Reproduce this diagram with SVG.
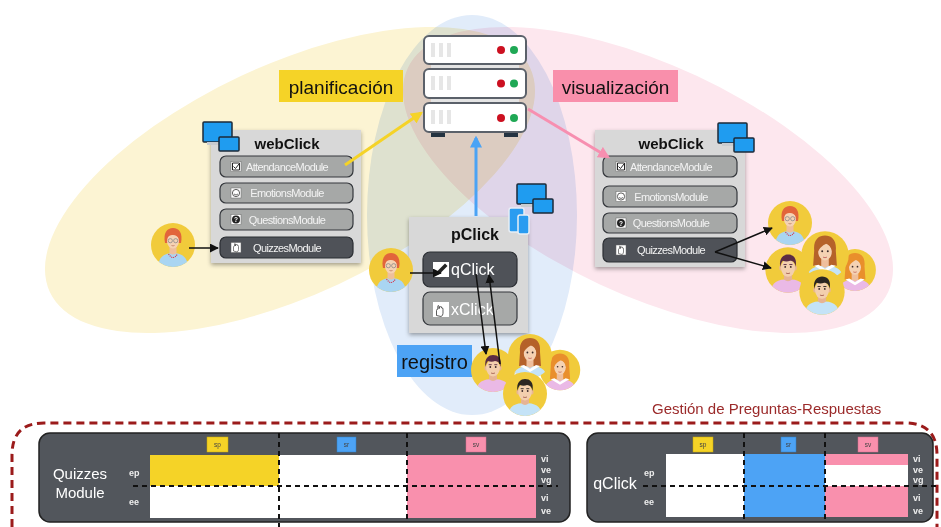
<svg xmlns="http://www.w3.org/2000/svg" width="941" height="527" viewBox="0 0 941 527">
<style>
  text{font-family:"Liberation Sans",Arial,sans-serif}
  .panel{fill:#d8d8d8}
  .btn{fill:#a6a8a7;stroke:#34373c;stroke-width:1.2}
  .btnd{fill:#4f5258;stroke:#2b2e33;stroke-width:1.2}
  .bt{font-size:11px;fill:#f3f3f3;letter-spacing:-0.6px;text-anchor:middle}
  .title{font-size:15px;font-weight:bold;fill:#111;text-anchor:middle}
  .lbl{font-size:19px;fill:#111}
  .blk{stroke:#111;stroke-width:1.5;fill:none}
  .srv{fill:#fff;stroke:#5b616a;stroke-width:2}
  .bar{fill:#e4e4e4}
  .tbl{fill:#52565c;stroke:#222;stroke-width:1.5}
  .dsh{stroke:#111;stroke-width:2;stroke-dasharray:5 4;fill:none}
  .hd{font-size:6.5px;fill:#444;text-anchor:middle}
  .rl{font-size:9px;font-weight:bold;fill:#eee}
  .ico{fill:#fff;stroke:#666;stroke-width:.5}
  .mon{fill:#1f9cf0;stroke:#1d2a38;stroke-width:1.5}
  .skin{fill:#f5d2b3}
  .eye{fill:#3a2a2a}
</style>
<defs>
  <filter id="sh" x="-10%" y="-10%" width="120%" height="125%">
    <feDropShadow dx="0" dy="2" stdDeviation="2" flood-color="#000" flood-opacity=".35"/>
  </filter>
  <marker id="ahY" viewBox="0 0 10 10" refX="8" refY="5" markerWidth="4" markerHeight="4" orient="auto"><path d="M0,0 L10,5 L0,10z" fill="#f5d327"/></marker>
  <marker id="ahP" viewBox="0 0 10 10" refX="8" refY="5" markerWidth="4" markerHeight="4" orient="auto"><path d="M0,0 L10,5 L0,10z" fill="#f78fb0"/></marker>
  <marker id="ahB" viewBox="0 0 10 10" refX="8" refY="5" markerWidth="4" markerHeight="4" orient="auto"><path d="M0,0 L10,5 L0,10z" fill="#4aa3f5"/></marker>
  <marker id="ahK" viewBox="0 0 10 10" refX="9" refY="5" markerWidth="6" markerHeight="6" orient="auto"><path d="M0,0 L10,5 L0,10z" fill="#111"/></marker>
  <clipPath id="cc"><circle r="22"/></clipPath>

  <!-- avatar: woman with glasses -->
  <g id="avA">
    <circle r="22" fill="#f1cb3b"/>
    <g clip-path="url(#cc)">
      <path d="M-15,24 C-15,12 -9,8 0,8 C9,8 15,12 15,24Z" fill="#a9d5f2"/>
      <path d="M-3.5,2 h7 v6 q-3.5,3 -7,0z" fill="#eebf9c"/>
      <path d="M-4.5,9 Q0,16 4.5,9" fill="none" stroke="#d8344a" stroke-width="1.1" stroke-dasharray="1.1 .9"/>
    </g>
    <path d="M-8,-2 C-10,-12 -6,-17 0,-17 C6,-17 10,-12 8,-2Z" fill="#e2653b"/>
    <ellipse cx="0" cy="-4" rx="6" ry="7.5" class="skin"/>
    <path d="M-7,-5 C-7,-13 -2,-14 1,-13.5 C6,-13 7.5,-10 7,-5 C5,-9 2,-10.5 -1,-10 C-4,-9.5 -6,-8 -7,-5Z" fill="#e2653b"/>
    <g fill="none" stroke="#8a8a8a" stroke-width=".8"><circle cx="-2.7" cy="-4.3" r="2.1"/><circle cx="2.7" cy="-4.3" r="2.1"/></g>
    <path d="M-1.5,0.5 Q0,1.3 1.5,0.5" stroke="#b5705a" stroke-width=".7" fill="none"/>
  </g>

  <!-- avatar: man, dark red hair -->
  <g id="avM">
    <circle r="22" fill="#f1cb3b"/>
    <g clip-path="url(#cc)">
      <path d="M-17,24 C-17,12 -10,9 0,9 C10,9 17,12 17,24Z" fill="#eab9e6"/>
      <path d="M-4,3 h8 v6 q-4,4 -8,0z" fill="#e6b494"/>
    </g>
    <ellipse cx="-7" cy="-2" rx="1.6" ry="2.5" fill="#eab791"/>
    <ellipse cx="7" cy="-2" rx="1.6" ry="2.5" fill="#eab791"/>
    <ellipse cx="0" cy="-2" rx="6.8" ry="8.5" fill="#f3cfae"/>
    <path d="M-7.5,-3 C-9,-12 -4,-15 0,-15 C5,-15 9,-12 7.5,-3 C7,-7 5,-9 2,-9 C0,-8 -3,-8 -5,-9 C-6,-8 -7,-6 -7.5,-3Z" fill="#5b2c44"/>
    <circle cx="-2.7" cy="-3" r=".9" class="eye"/><circle cx="2.7" cy="-3" r=".9" class="eye"/>
    <path d="M-4.3,-5.3 h3 M1.3,-5.3 h3" stroke="#5b2c44" stroke-width=".9"/>
    <path d="M-2,3 Q0,4 2,3" stroke="#a0584a" stroke-width=".8" fill="none"/>
  </g>

  <!-- avatar: man, black hair -->
  <g id="avD">
    <circle r="22" fill="#f1cb3b"/>
    <g clip-path="url(#cc)">
      <path d="M-17,24 C-17,12 -10,9 0,9 C10,9 17,12 17,24Z" fill="#c4e3f7"/>
      <path d="M-4,3 h8 v6 q-4,4 -8,0z" fill="#e6b494"/>
    </g>
    <ellipse cx="-7" cy="-2" rx="1.6" ry="2.5" fill="#eab791"/>
    <ellipse cx="7" cy="-2" rx="1.6" ry="2.5" fill="#eab791"/>
    <ellipse cx="0" cy="-2" rx="6.8" ry="8.5" fill="#f3cfae"/>
    <path d="M-7.5,-3 C-9,-12 -4,-15 0,-15 C5,-15 9,-12 7.5,-3 C7,-7 5,-9 2,-9 C0,-8 -3,-8 -5,-9 C-6,-8 -7,-6 -7.5,-3Z" fill="#2b2622"/>
    <circle cx="-2.7" cy="-3" r=".9" class="eye"/><circle cx="2.7" cy="-3" r=".9" class="eye"/>
    <path d="M-4.3,-5.3 h3 M1.3,-5.3 h3" stroke="#2b2622" stroke-width=".9"/>
    <path d="M-2,3 Q0,4 2,3" stroke="#a0584a" stroke-width=".8" fill="none"/>
  </g>

  <!-- avatar: woman, long brown hair -->
  <g id="avW">
    <circle r="22" fill="#f1cb3b"/>
    <g clip-path="url(#cc)">
      <path d="M-10,-4 C-11,-14 -6,-18 0,-18 C6,-18 11,-14 10,-4 L11,10 L-11,10Z" fill="#b5622a"/>
      <path d="M-17,24 C-17,13 -10,10 0,10 C10,10 17,13 17,24Z" fill="#c4e3f7"/>
      <path d="M-3.5,3 h7 v7 l-3.5,2 l-3.5,-2z" fill="#efbf9c"/>
      <path d="M-10,10 L0,16 L10,10 L6,9 L0,13 L-6,9Z" fill="#fff"/>
    </g>
    <ellipse cx="0" cy="-3" rx="6.3" ry="8" class="skin"/>
    <path d="M-7,-2 C-8,-12 -3,-14 0,-14 C4,-14 8,-12 7,-2 C6,-7 4,-9.5 1,-10.5 C-2,-9 -5,-7 -7,-2Z" fill="#b5622a"/>
    <circle cx="-2.6" cy="-3.5" r=".9" class="eye"/><circle cx="2.6" cy="-3.5" r=".9" class="eye"/>
    <path d="M-1.8,2 Q0,3 1.8,2" stroke="#c0605a" stroke-width=".8" fill="none"/>
  </g>

  <!-- avatar: woman, blonde hair -->
  <g id="avB">
    <circle r="22" fill="#f1cb3b"/>
    <g clip-path="url(#cc)">
      <path d="M-10,-4 C-11,-14 -6,-18 0,-18 C6,-18 11,-14 10,-4 L11,10 L-11,10Z" fill="#e98f2c"/>
      <path d="M-17,24 C-17,13 -10,10 0,10 C10,10 17,13 17,24Z" fill="#eab9e6"/>
      <path d="M-3.5,3 h7 v7 l-3.5,2 l-3.5,-2z" fill="#efbf9c"/>
      <path d="M-10,10 L0,16 L10,10 L6,9 L0,13 L-6,9Z" fill="#fff"/>
    </g>
    <ellipse cx="0" cy="-3" rx="6.3" ry="8" class="skin"/>
    <path d="M-7,-2 C-8,-12 -3,-14 0,-14 C4,-14 8,-12 7,-2 C6,-7 4,-9.5 1,-10.5 C-2,-9 -5,-7 -7,-2Z" fill="#e98f2c"/>
    <circle cx="-2.6" cy="-3.5" r=".9" class="eye"/><circle cx="2.6" cy="-3.5" r=".9" class="eye"/>
    <path d="M-1.8,2 Q0,3 1.8,2" stroke="#c0605a" stroke-width=".8" fill="none"/>
  </g>

  <!-- two-screen monitor icon, origin at top-left of the larger screen -->
  <g id="monitors">
    <rect x="0" y="0" width="29" height="20" rx="1" class="mon"/>
    <rect x="4" y="20" width="14" height="3" fill="#c9ccd0"/>
    <rect x="16" y="15" width="20" height="14" rx="1" class="mon"/>
  </g>
</defs>

<!-- background sets -->
<g id="sets" style="isolation:isolate">
  <ellipse cx="290" cy="180" rx="265" ry="115" transform="rotate(-25 290 180)" fill="#fcf4d3" style="mix-blend-mode:multiply"/>
  <ellipse cx="648" cy="180" rx="265" ry="115" transform="rotate(25 648 180)" fill="#fde7ee" style="mix-blend-mode:multiply"/>
  <ellipse cx="472" cy="215" rx="105" ry="200" fill="#e1ecfa" style="mix-blend-mode:multiply"/>
</g>

<!-- server -->
<g id="server">
  <rect x="431" y="62" width="88" height="9" class="bar"/>
  <rect x="431" y="96" width="88" height="9" class="bar"/>
  <rect x="431" y="132" width="14" height="5" fill="#243341"/>
  <rect x="504" y="132" width="14" height="5" fill="#243341"/>
  <g>
    <rect x="424" y="36" width="102" height="28" rx="5" class="srv"/>
    <rect x="431" y="43" width="4" height="14" fill="#e6e6e6"/><rect x="439" y="43" width="4" height="14" fill="#e6e6e6"/><rect x="447" y="43" width="4" height="14" fill="#e6e6e6"/>
    <circle cx="501" cy="50" r="4" fill="#cc1020"/><circle cx="514" cy="50" r="4" fill="#1fa855"/>
  </g>
  <g>
    <rect x="424" y="69" width="102" height="29" rx="5" class="srv"/>
    <rect x="431" y="76" width="4" height="14" fill="#e6e6e6"/><rect x="439" y="76" width="4" height="14" fill="#e6e6e6"/><rect x="447" y="76" width="4" height="14" fill="#e6e6e6"/>
    <circle cx="501" cy="83.5" r="4" fill="#cc1020"/><circle cx="514" cy="83.5" r="4" fill="#1fa855"/>
  </g>
  <g>
    <rect x="424" y="103" width="102" height="29" rx="5" class="srv"/>
    <rect x="431" y="110" width="4" height="14" fill="#e6e6e6"/><rect x="439" y="110" width="4" height="14" fill="#e6e6e6"/><rect x="447" y="110" width="4" height="14" fill="#e6e6e6"/>
    <circle cx="501" cy="118" r="4" fill="#cc1020"/><circle cx="514" cy="118" r="4" fill="#1fa855"/>
  </g>
</g>

<!-- phase labels -->
<g id="label-planificacion">
  <rect x="279" y="70" width="124" height="32" fill="#f5d327"/>
  <text x="341" y="94" class="lbl" text-anchor="middle">planificación</text>
</g>
<g id="label-visualizacion">
  <rect x="553" y="70" width="125" height="32" fill="#f98fab"/>
  <text x="615.5" y="94" class="lbl" text-anchor="middle">visualización</text>
</g>
<g id="label-registro">
  <rect x="397" y="345" width="75" height="32" fill="#4da3f5"/>
  <text x="434.5" y="369" class="lbl" style="font-size:20px" text-anchor="middle">registro</text>
</g>

<!-- webClick (planning side) -->
<g id="webclick-left">
  <rect x="211" y="130" width="150" height="133" class="panel" filter="url(#sh)"/>
  <use href="#monitors" transform="translate(203 122)"/>
  <text x="287" y="149" class="title">webClick</text>
  <rect x="220" y="156" width="133" height="21" rx="6" class="btn"/>
  <rect x="231" y="161.5" width="10" height="10" class="ico"/>
  <path d="M232.5,163 h7 v7 h-7z M233.5,166.5 l2,2 l3.5,-4.5" fill="none" stroke="#222" stroke-width="1"/>
  <text x="287" y="170.5" class="bt">AttendanceModule</text>
  <rect x="220" y="183" width="133" height="20" rx="6" class="btn"/>
  <rect x="231" y="188" width="10" height="10" class="ico"/>
  <circle cx="236" cy="193" r="3.6" fill="none" stroke="#333" stroke-width=".8"/>
  <path d="M234,194 q2,2 4,0" fill="none" stroke="#333" stroke-width=".7"/>
  <text x="287" y="197" class="bt">EmotionsModule</text>
  <rect x="220" y="209" width="133" height="21" rx="6" class="btn"/>
  <rect x="231" y="214.5" width="10" height="10" class="ico"/>
  <circle cx="236" cy="219.5" r="4" fill="#222"/>
  <text x="236" y="222" font-size="6.5" font-weight="bold" fill="#fff" text-anchor="middle">?</text>
  <text x="287" y="223.5" class="bt">QuestionsModule</text>
  <rect x="220" y="237" width="133" height="21" rx="6" class="btnd"/>
  <rect x="231" y="242.5" width="10" height="10" class="ico"/>
  <path d="M233.5,251 v-4 q0,-1 1,-1 v-2 q0,-1 1,0 v2 q0,-2 1,-1.5 q1,-.5 1,1 q1,-.5 1,1 v3 q0,2 -1.5,2.5z" fill="none" stroke="#333" stroke-width=".6"/>
  <text x="287" y="251.5" class="bt">QuizzesModule</text>
</g>

<!-- webClick (visualisation side) -->
<g id="webclick-right">
  <rect x="595" y="130" width="150" height="137" class="panel" filter="url(#sh)"/>
  <use href="#monitors" transform="translate(718 123)"/>
  <text x="671" y="149" class="title">webClick</text>
  <rect x="603" y="156" width="134" height="21" rx="6" class="btn"/>
  <rect x="616" y="161.5" width="10" height="10" class="ico"/>
  <path d="M617.5,163 h7 v7 h-7z M618.5,166.5 l2,2 l3.5,-4.5" fill="none" stroke="#222" stroke-width="1"/>
  <text x="671" y="170.5" class="bt">AttendanceModule</text>
  <rect x="603" y="186" width="134" height="21" rx="6" class="btn"/>
  <rect x="616" y="191.5" width="10" height="10" class="ico"/>
  <circle cx="621" cy="196.5" r="3.6" fill="none" stroke="#333" stroke-width=".8"/>
  <path d="M619,197.5 q2,2 4,0" fill="none" stroke="#333" stroke-width=".7"/>
  <text x="671" y="200.5" class="bt">EmotionsModule</text>
  <rect x="603" y="213" width="134" height="20" rx="6" class="btn"/>
  <rect x="616" y="218" width="10" height="10" class="ico"/>
  <circle cx="621" cy="223" r="4" fill="#222"/>
  <text x="621" y="225.5" font-size="6.5" font-weight="bold" fill="#fff" text-anchor="middle">?</text>
  <text x="671" y="227" class="bt">QuestionsModule</text>
  <rect x="603" y="238" width="134" height="24" rx="6" class="btnd"/>
  <rect x="616" y="245" width="10" height="10" class="ico"/>
  <path d="M618.5,253.5 v-4 q0,-1 1,-1 v-2 q0,-1 1,0 v2 q0,-2 1,-1.5 q1,-.5 1,1 q1,-.5 1,1 v3 q0,2 -1.5,2.5z" fill="none" stroke="#333" stroke-width=".6"/>
  <text x="671" y="254" class="bt">QuizzesModule</text>
</g>

<!-- pClick -->
<g id="pclick">
  <rect x="409" y="217" width="119" height="116" class="panel" filter="url(#sh)"/>
  <use href="#monitors" transform="translate(517 184)"/>
  <rect x="509" y="208" width="15" height="24" rx="2" fill="#2a9cf0" stroke="#e8eef5" stroke-width="1.5"/>
  <rect x="518" y="215" width="11" height="19" rx="2" fill="#2a9cf0" stroke="#e8eef5" stroke-width="1.5"/>
  <text x="475" y="240" class="title" style="font-size:16px">pClick</text>
  <rect x="423" y="252" width="94" height="35" rx="7" class="btnd"/>
  <rect x="433" y="262" width="16" height="15" fill="#fff"/>
  <path d="M436,275 l1,-3.5 l8,-8 l2.5,2.5 l-8,8z" fill="#222"/>
  <text x="451" y="275" fill="#fff" font-size="16">qClick</text>
  <rect x="423" y="292" width="94" height="33" rx="7" class="btn"/>
  <rect x="433" y="302" width="16" height="15" fill="#fff"/>
  <path d="M436.5,315.5 v-5 q0,-1.3 1.3,-1.3 v-3 q0,-1.4 1.3,0 v2.5 q0,-2.5 1.3,-2 q1.3,-.6 1.3,1.3 q1.3,-.6 1.3,1.3 v4 q0,2.6 -2,3.2z" fill="none" stroke="#333" stroke-width=".8"/>
  <text x="451" y="314.5" fill="#fff" font-size="16">xClick</text>
</g>

<!-- users -->
<g id="user-planner">
  <use href="#avA" transform="translate(173 245)"/>
</g>
<g id="user-presenter">
  <use href="#avA" transform="translate(391 270)"/>
</g>
<g id="audience-registro">
  <use href="#avB" transform="translate(560 370) scale(.92)"/>
  <use href="#avM" transform="translate(493 370)"/>
  <use href="#avW" transform="translate(530 356)"/>
  <use href="#avD" transform="translate(525 394)"/>
</g>
<g id="user-viewer">
  <use href="#avA" transform="translate(790 223)"/>
</g>
<g id="audience-visualizacion">
  <use href="#avB" transform="translate(855 270) scale(.95)"/>
  <use href="#avM" transform="translate(788 270) scale(1.03)"/>
  <use href="#avW" transform="translate(825 255) scale(1.08)"/>
  <use href="#avD" transform="translate(822 292) scale(1.03)"/>
</g>

<!-- connectors -->
<g id="connectors">
  <line x1="345" y1="165" x2="421" y2="113" stroke="#f5d327" stroke-width="3" marker-end="url(#ahY)"/>
  <line x1="528" y1="109" x2="608" y2="157" stroke="#f78fb0" stroke-width="3" marker-end="url(#ahP)"/>
  <line x1="476" y1="216" x2="476" y2="138" stroke="#4aa3f5" stroke-width="3" marker-end="url(#ahB)"/>
  <line x1="189" y1="248" x2="218" y2="248" class="blk" marker-end="url(#ahK)"/>
  <line x1="410" y1="273" x2="441" y2="273" class="blk" marker-end="url(#ahK)"/>
  <line x1="476" y1="274" x2="486" y2="354" class="blk" marker-end="url(#ahK)"/>
  <line x1="500" y1="364" x2="489" y2="275" class="blk" marker-end="url(#ahK)"/>
  <line x1="715" y1="252" x2="772" y2="228" class="blk" marker-end="url(#ahK)"/>
  <line x1="715" y1="252" x2="771" y2="268" class="blk" marker-end="url(#ahK)"/>
</g>

<!-- question/answer management -->
<g id="gestion">
  <path d="M12,527 V455 Q12,423 44,423 H905 Q937,423 937,455 V527" fill="none" stroke="#9b1b1b" stroke-width="3" stroke-dasharray="8 5"/>
  <text x="652" y="414" font-size="15" fill="#9b2a2a">Gestión de Preguntas-Respuestas</text>
</g>

<g id="table-quizzes">
  <rect x="39" y="433" width="531" height="89" rx="11" class="tbl"/>
  <rect x="150" y="455" width="129" height="31" fill="#f5d327"/>
  <rect x="150" y="486" width="129" height="32" fill="#fff"/>
  <rect x="279" y="455" width="128" height="63" fill="#fff"/>
  <rect x="407" y="455" width="129" height="63" fill="#f990ad"/>
  <rect x="207" y="437" width="21" height="15" fill="#f5d327" stroke="#c9a900" stroke-width=".5"/>
  <text x="217.5" y="447" class="hd">sp</text>
  <rect x="337" y="437" width="19" height="15" fill="#4da3f5" stroke="#2d7fc8" stroke-width=".5"/>
  <text x="346.5" y="447" class="hd">sr</text>
  <rect x="466" y="437" width="20" height="15" fill="#f990ad" stroke="#d86a8a" stroke-width=".5"/>
  <text x="476" y="447" class="hd">sv</text>
  <text x="80" y="479" font-size="15" fill="#fff" text-anchor="middle">Quizzes</text>
  <text x="80" y="498" font-size="15" fill="#fff" text-anchor="middle">Module</text>
  <text x="129" y="476" class="rl">ep</text>
  <text x="129" y="505" class="rl">ee</text>
  <text x="541" y="462" class="rl">vi</text>
  <text x="541" y="472.5" class="rl">ve</text>
  <text x="541" y="482.5" class="rl">vg</text>
  <text x="541" y="501" class="rl">vi</text>
  <text x="541" y="514" class="rl">ve</text>
  <line x1="133" y1="486" x2="558" y2="486" class="dsh"/>
  <line x1="279" y1="433" x2="279" y2="527" class="dsh"/>
  <line x1="407" y1="433" x2="407" y2="522" class="dsh"/>
</g>

<g id="table-qclick">
  <rect x="587" y="433" width="346" height="89" rx="11" class="tbl"/>
  <rect x="666" y="454" width="78" height="63" fill="#fff"/>
  <rect x="744" y="454" width="81" height="63" fill="#4da3f5"/>
  <rect x="825" y="454" width="83" height="11" fill="#f990ad"/>
  <rect x="825" y="465" width="83" height="21" fill="#fff"/>
  <rect x="825" y="486" width="83" height="31" fill="#f990ad"/>
  <rect x="693" y="437" width="20" height="15" fill="#f5d327" stroke="#c9a900" stroke-width=".5"/>
  <text x="703" y="447" class="hd">sp</text>
  <rect x="781" y="437" width="15" height="15" fill="#4da3f5" stroke="#2d7fc8" stroke-width=".5"/>
  <text x="788.5" y="447" class="hd">sr</text>
  <rect x="858" y="437" width="20" height="15" fill="#f990ad" stroke="#d86a8a" stroke-width=".5"/>
  <text x="868" y="447" class="hd">sv</text>
  <text x="615" y="489" font-size="16" fill="#fff" text-anchor="middle">qClick</text>
  <text x="644" y="476" class="rl">ep</text>
  <text x="644" y="505" class="rl">ee</text>
  <text x="913" y="462" class="rl">vi</text>
  <text x="913" y="472.5" class="rl">ve</text>
  <text x="913" y="482.5" class="rl">vg</text>
  <text x="913" y="501" class="rl">vi</text>
  <text x="913" y="514" class="rl">ve</text>
  <line x1="643" y1="486" x2="939" y2="486" class="dsh"/>
  <line x1="744" y1="433" x2="744" y2="522" class="dsh"/>
  <line x1="825" y1="433" x2="825" y2="522" class="dsh"/>
</g>
</svg>
